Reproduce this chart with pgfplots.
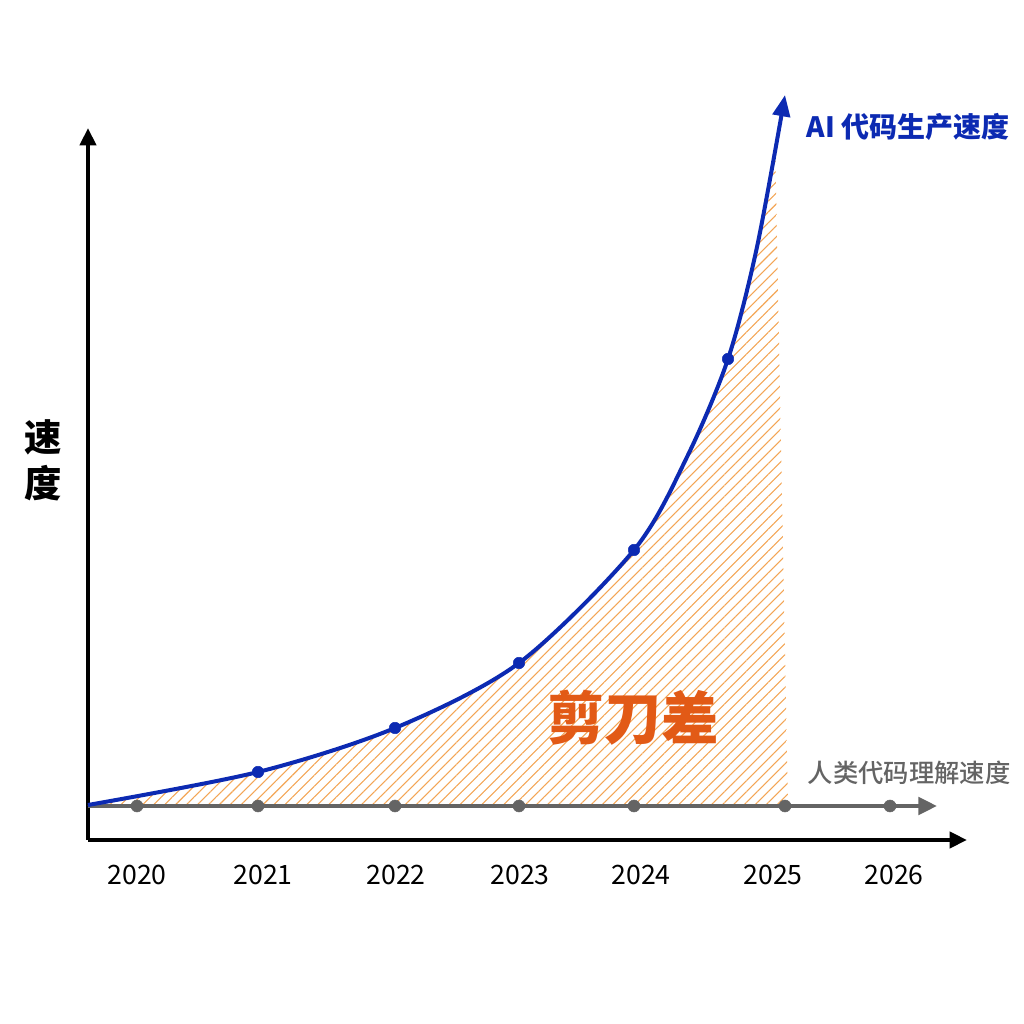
\documentclass[border=0pt]{standalone}
\usepackage{fontspec}
\setmainfont{Noto Sans CJK SC}
\newfontfamily\cjkmed{Noto Sans CJK SC Medium}
\usepackage{pgfplots}
\pgfplotsset{compat=1.18}
\usepgfplotslibrary{fillbetween}
\usetikzlibrary{arrows.meta,patterns.meta}
\definecolor{aiblue}{RGB}{12,42,178}
\definecolor{hgray}{RGB}{100,100,100}
\definecolor{hatchc}{RGB}{243,165,85}
\definecolor{scissor}{RGB}{226,90,22}
\begin{document}
\begin{tikzpicture}
\begin{axis}[
  scale only axis, width=659.25pt, height=534pt,
  xmin=88, xmax=967, ymin=184, ymax=896,
  axis x line=bottom, axis y line=left,
  every outer x axis line/.append style={line width=2.7pt, -{Triangle[length=13pt,width=12pt]}},
  every outer y axis line/.append style={line width=2.7pt, -{Triangle[length=13pt,width=12pt]}},
  xtick={137,263,396,520,641,773,894},
  xticklabels={2020,2021,2022,2023,2024,2025,2026},
  ytick=\empty,
  major tick length=0pt,
  xticklabel style={font=\fontsize{20}{24}\selectfont, anchor=center, yshift=-26pt},
  /pgf/number format/assume math mode=true,
  clip=false,
]
\coordinate (BL) at (axis cs:0,0);
\coordinate (TR) at (axis cs:1024,1024);
% invisible paths for the hatched gap
\addplot[draw=none, smooth, name path=ai, forget plot] coordinates {
(88,219) (258,252) (395,296) (519,361) (634,474) (687,567) (728,665) (757,777) (785,929)};
\addplot[draw=none, name path=base, forget plot] coordinates {(88,218) (937,218)};
\addplot[pattern={Lines[angle=45, distance=5.8pt, line width=0.8pt]}, pattern color=hatchc, draw=none, forget plot]
  fill between[of=ai and base, soft clip={(axis cs:88,200) rectangle (axis cs:788,874)}];
% human speed line
\addplot[hgray, line width=3pt, -{Triangle[length=14pt,width=13pt]}] coordinates {(88,218) (937,218)};
\addplot[only marks, mark=*, mark size=4.5pt, hgray] coordinates {
(137,218) (258,218) (395,218) (519,218) (634,218) (785,218) (890,218)};
% AI speed curve
\addplot[aiblue, line width=3pt, smooth, -{Triangle[length=16pt,width=13pt]}] coordinates {
(88,219) (258,252) (395,296) (519,361) (634,474) (687,567) (728,665) (757,777) (785,929)};
\addplot[only marks, mark=*, mark size=4.3pt, aiblue] coordinates {
(258,252) (395,296) (519,361) (634,474) (728,665)};
\node[anchor=west, text=aiblue, font=\fontsize{21}{24}\selectfont\bfseries] at (axis cs:802,897) {AI 代码生产速度};
\node[anchor=west, text=hgray, font=\fontsize{19}{22}\selectfont\cjkmed] at (axis cs:803,251) {人类代码理解速度};
\node[text=scissor, font=\fontsize{43}{48}\selectfont\bfseries] at (axis cs:633,306) {剪刀差};
\node[align=center, font=\fontsize{28}{34.5}\selectfont\bfseries] at (axis cs:43,564) {速\\度};
\end{axis}
\pgfresetboundingbox
\path (BL) rectangle (TR);
\end{tikzpicture}
\end{document}
